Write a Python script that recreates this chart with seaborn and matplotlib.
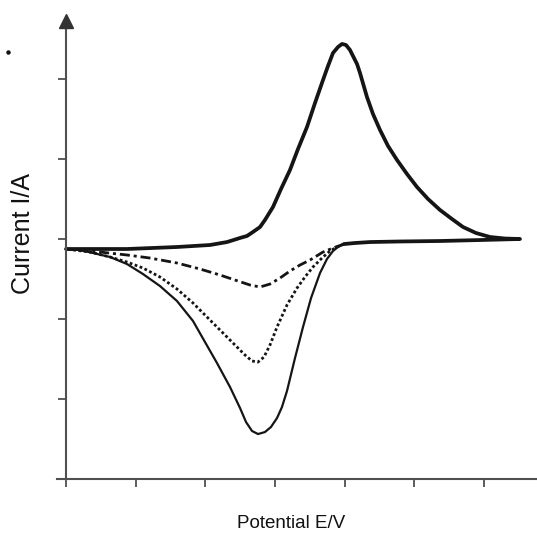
import matplotlib
matplotlib.use("Agg")
import matplotlib.pyplot as plt
import seaborn as sns
import pandas as pd

# ---- data (potential in tick units, current in tick units) ----
forward_x = [0.000, 0.488, 0.876, 1.593, 2.067, 2.311, 2.498, 2.598, 2.684, 2.785,
             2.856, 2.971, 3.086, 3.215, 3.330, 3.459, 3.574, 3.689, 3.761, 3.832,
             3.904, 3.962, 4.019, 4.076, 4.119, 4.177, 4.220, 4.320, 4.406, 4.507,
             4.622, 4.751, 4.894, 5.038, 5.196, 5.368, 5.540, 5.698, 5.885, 6.086,
             6.301, 6.516]
forward_y = [-0.125, -0.125, -0.125, -0.100, -0.075, -0.038, 0.013, 0.038, 0.088, 0.150,
             0.238, 0.400, 0.625, 0.863, 1.125, 1.400, 1.700, 1.988, 2.163, 2.325,
             2.400, 2.438, 2.425, 2.363, 2.288, 2.188, 2.075, 1.775, 1.563, 1.363,
             1.163, 0.988, 0.813, 0.650, 0.500, 0.363, 0.250, 0.150, 0.075, 0.025,
             0.006, 0.000]

# common part of the return sweep (all three curves coincide)
return_x = [6.516, 5.942, 5.368, 4.794, 4.363, 4.148, 3.990]
return_y = [0.000, -0.013, -0.025, -0.031, -0.038, -0.050, -0.063]

# reduction branches
solid_x = [3.990, 3.904, 3.832, 3.746, 3.646, 3.517, 3.402, 3.287, 3.172, 3.100,
           3.029, 2.942, 2.856, 2.756, 2.670, 2.584, 2.498, 2.354, 2.167, 1.995,
           1.823, 1.593, 1.349, 1.105, 0.876, 0.632, 0.388, 0.201, 0.000]
solid_y = [-0.063, -0.100, -0.150, -0.250, -0.425, -0.738, -1.100, -1.488, -1.900, -2.100,
           -2.238, -2.350, -2.413, -2.438, -2.400, -2.288, -2.113, -1.850, -1.550, -1.288,
           -1.025, -0.775, -0.588, -0.438, -0.313, -0.225, -0.175, -0.138, -0.125]

dotted_x = [3.990, 3.890, 3.789, 3.674, 3.545, 3.430, 3.316, 3.172, 3.029, 2.928,
            2.842, 2.756, 2.670, 2.569, 2.454, 2.311, 2.067, 1.823, 1.593, 1.349,
            1.105, 0.876, 0.632, 0.344, 0.000]
dotted_y = [-0.063, -0.100, -0.150, -0.238, -0.350, -0.475, -0.613, -0.825, -1.100, -1.325,
            -1.475, -1.538, -1.525, -1.450, -1.350, -1.225, -1.013, -0.800, -0.625, -0.475,
            -0.363, -0.288, -0.225, -0.163, -0.125]

dashdot_x = [3.990, 3.832, 3.689, 3.502, 3.359, 3.215, 3.072, 2.928, 2.785, 2.641,
             2.426, 2.210, 1.923, 1.593, 1.206, 0.876, 0.488, 0.000]
dashdot_y = [-0.063, -0.113, -0.163, -0.263, -0.325, -0.400, -0.488, -0.563, -0.600, -0.575,
             -0.513, -0.450, -0.375, -0.300, -0.238, -0.200, -0.163, -0.125]

x_ticks = [0, 1, 2, 3, 4, 5, 6]
y_ticks = [-2, -1, 0, 1, 2]
x_label = "Potential E/V"
y_label = "Current I/A"

# ---- style ----
sns.set_style("white")
plt.rcParams["font.family"] = ["Liberation Sans", "DejaVu Sans"]

W, H = 537, 535
fig = plt.figure(figsize=(W / 100, H / 100), dpi=100)
ax = fig.add_axes([57 / W, 56 / H, (W - 57) / W, (479 - 20.5) / H])

line_col = "#151515"
axis_col = "#505050"

sweep = pd.DataFrame({"E": forward_x + return_x, "I": forward_y + return_y})
sns.lineplot(data=sweep, x="E", y="I", sort=False, estimator=None,
             color=line_col, lw=2.7, ax=ax, solid_capstyle="round",
             solid_joinstyle="round")

sns.lineplot(x=solid_x, y=solid_y, sort=False, estimator=None,
             color=line_col, lw=1.6, ax=ax, solid_joinstyle="round")
sns.lineplot(x=dotted_x, y=dotted_y, sort=False, estimator=None,
             color=line_col, lw=2.0, ax=ax, linestyle=(0, (1.0, 0.9)))
sns.lineplot(x=dashdot_x, y=dashdot_y, sort=False, estimator=None,
             color=line_col, lw=2.0, ax=ax, linestyle=(0, (3.6, 1.4, 1.1, 1.4)))

ax.set_xlim(-9 / 69.67, (537 - 66) / 69.67)
ax.set_ylim(-3, (239 - 20.5) / 80)

for s in ["top", "right"]:
    ax.spines[s].set_visible(False)
ax.spines["left"].set_position(("data", 0))
for s in ["left", "bottom"]:
    ax.spines[s].set_color(axis_col)
    ax.spines[s].set_linewidth(1.5)

ax.set_xticks(x_ticks)
ax.set_yticks(y_ticks)
ax.set_xticklabels([])
ax.set_yticklabels([])
ax.tick_params(axis="both", direction="out", length=6, width=1.3,
               color=axis_col, bottom=True, left=True)

# arrow head on the y axis
ax.plot([0], [(239 - 20.5) / 80], marker="^", ms=9.5, color="#333333",
        clip_on=False, zorder=5)

ax.set_xlabel("")
ax.set_ylabel("")
fig.text(291 / W, 1 - 524 / H, x_label, ha="center", va="center",
         fontsize=13.5, color="#111111")
fig.text(23 / W, 1 - 234 / H, y_label, ha="center", va="center",
         rotation=90, fontsize=18, color="#111111")

# small stray dot at the top left of the original figure
fig.lines.append(plt.Line2D([8 / W], [1 - 52 / H], marker="o", ms=2.2,
                            color="#111111", transform=fig.transFigure))

fig.savefig("out.png", dpi=100)
